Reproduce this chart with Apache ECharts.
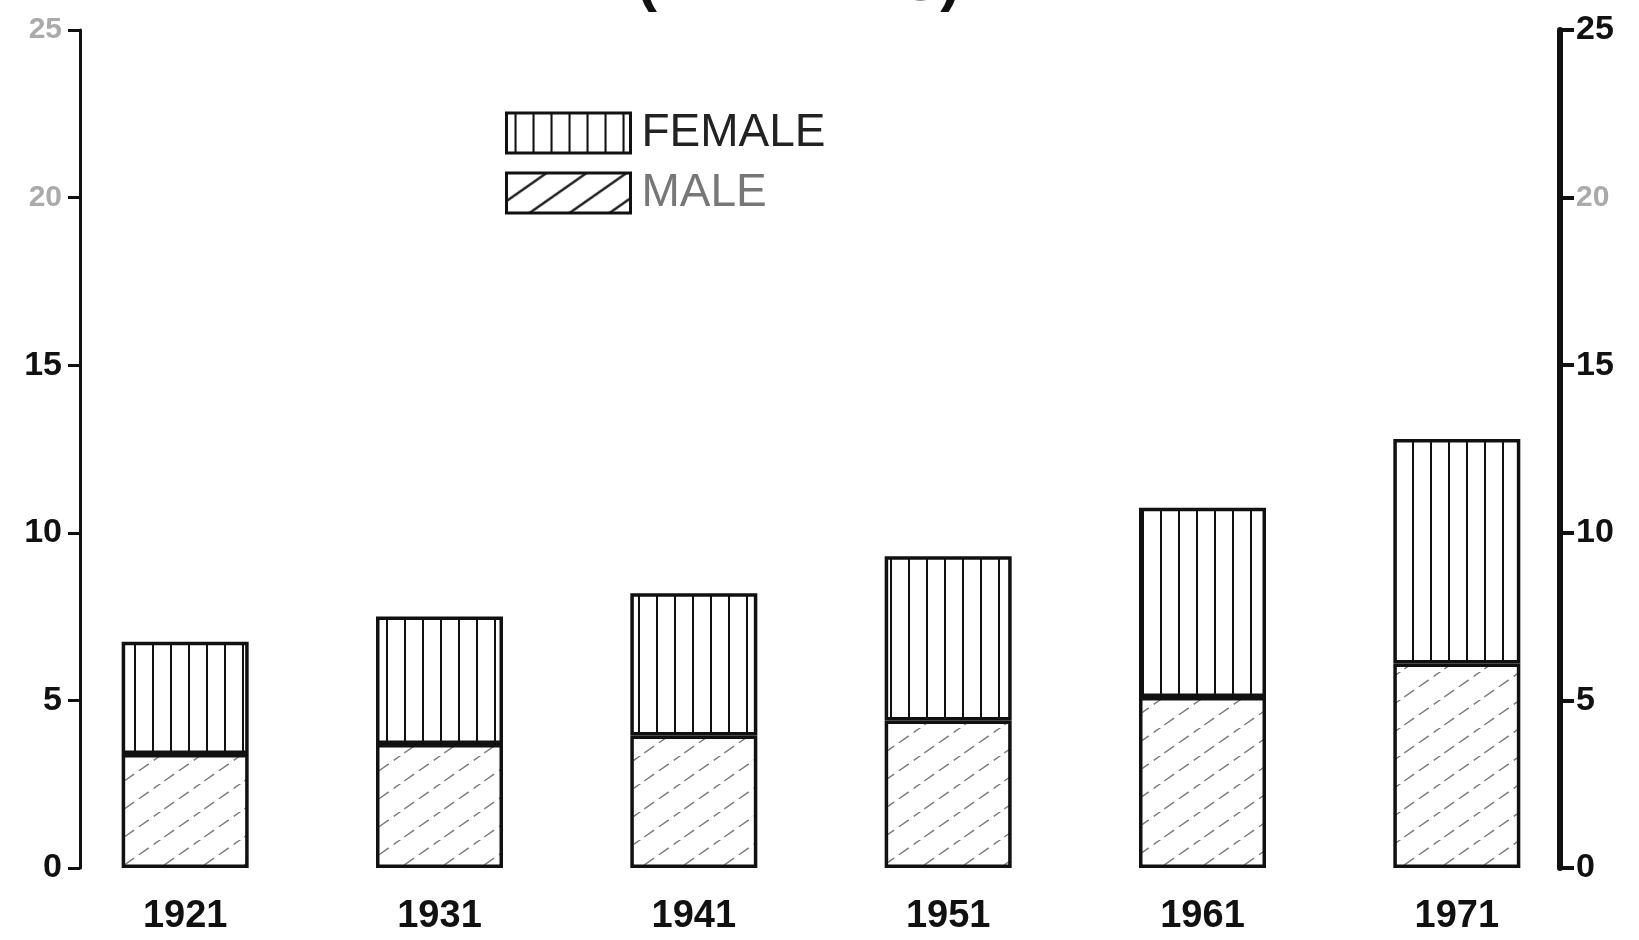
<!DOCTYPE html>
<html>
<head>
<meta charset="utf-8">
<style>
  html, body { margin: 0; padding: 0; background: #fff; }
  #chart { width: 1639px; height: 940px; }
</style>
<script src="https://cdn.jsdelivr.net/npm/echarts@6/dist/echarts.min.js"></script>
</head>
<body>
<div id="chart"></div>
<script>
const years = ['1921', '1931', '1941', '1951', '1961', '1971'];
const male = [3.4, 3.7, 3.95, 4.4, 5.1, 6.1];
const female = [3.35, 3.8, 4.25, 4.9, 5.65, 6.7];
const fadedTicks = [20, 25];

// vertical lines for the female part
function verticalLines() {
    const c = document.createElement('canvas');
    c.width = 18;
    c.height = 12;
    const ctx = c.getContext('2d');
    ctx.fillStyle = '#fff';
    ctx.fillRect(0, 0, c.width, c.height);
    ctx.fillStyle = '#111';
    ctx.fillRect(8, 0, 2, c.height);
    return c;
}

// broken diagonal hatching for the male part
function diagonalHatch(color, width, dash) {
    const c = document.createElement('canvas');
    c.width = 40;
    c.height = 28;
    const ctx = c.getContext('2d');
    ctx.fillStyle = '#fff';
    ctx.fillRect(0, 0, c.width, c.height);
    ctx.strokeStyle = color;
    ctx.lineWidth = width;
    ctx.setLineDash(dash);
    for (let k = -1; k <= 1; k++) {
        ctx.beginPath();
        ctx.moveTo(k * 40 - 40, 56);
        ctx.lineTo(k * 40 + 80, -28);
        ctx.stroke();
    }
    return c;
}

const femaleFill = { image: verticalLines(), repeat: 'repeat' };
const maleFill = { image: diagonalHatch('#777', 1.4, [12, 6]), repeat: 'repeat' };
const maleLegendFill = { image: diagonalHatch('#222', 2.5, []), repeat: 'repeat' };

const labelRich = {
    dark: { fontSize: 34, fontWeight: 'bold', color: '#111', fontFamily: 'Liberation Sans' },
    faint: { fontSize: 30, fontWeight: 'bold', color: '#aaa', fontFamily: 'Liberation Sans' }
};

function tickLabel(v) {
    return (fadedTicks.indexOf(v) >= 0 ? '{faint|' : '{dark|') + v + '}';
}

const chart = echarts.init(document.getElementById('chart'), null, { renderer: 'canvas' });

chart.setOption({
    backgroundColor: '#fff',
    animation: false,
    title: {
        text: '(IN LAKHS)',
        left: 632,
        top: -52,
        textStyle: { fontSize: 60, fontWeight: 'bold', color: '#111', fontFamily: 'Liberation Sans' }
    },
    legend: {
        orient: 'vertical',
        left: 500,
        top: 105,
        icon: 'rect',
        itemWidth: 124,
        itemHeight: 40,
        itemGap: 14,
        textStyle: { fontSize: 46, fontFamily: 'Liberation Sans', padding: [0, 0, 0, 6] },
        data: [
            { name: 'FEMALE', textStyle: { color: '#222' } },
            { name: 'MALE', itemStyle: { color: maleLegendFill }, textStyle: { color: '#777' } }
        ],
        itemStyle: { borderColor: '#111', borderWidth: 3 }
    },
    grid: { left: 58, right: 55, top: 30, bottom: 72, containLabel: false },
    xAxis: {
        type: 'category',
        data: years,
        axisLine: { show: false },
        axisTick: { show: false },
        axisLabel: {
            margin: 30,
            fontSize: 38,
            fontWeight: 'bold',
            color: '#111',
            fontFamily: 'Liberation Sans'
        }
    },
    yAxis: [
        {
            type: 'value',
            position: 'left',
            offset: -22,
            min: 0,
            max: 25,
            interval: 5,
            splitLine: { show: false },
            axisLine: { show: true, lineStyle: { color: '#111', width: 3 } },
            axisTick: { show: true, length: 12, lineStyle: { color: '#111', width: 3 } },
            axisLabel: { margin: 18, formatter: tickLabel, rich: labelRich }
        },
        {
            type: 'value',
            position: 'right',
            offset: -24,
            min: 0,
            max: 25,
            interval: 5,
            splitLine: { show: false },
            axisLine: { show: true, lineStyle: { color: '#111', width: 6 } },
            axisTick: { show: true, length: 14, lineStyle: { color: '#111', width: 4 } },
            axisLabel: {
                margin: 16,
                formatter: function (v) {
                    return v === 20 ? '{faint|20}' : '{dark|' + v + '}';
                },
                rich: labelRich
            }
        }
    ],
    series: [
        {
            name: 'MALE',
            type: 'bar',
            stack: 'total',
            barWidth: 127,
            data: male,
            itemStyle: { color: maleFill, borderColor: '#111', borderWidth: 3.5 }
        },
        {
            name: 'FEMALE',
            type: 'bar',
            stack: 'total',
            barWidth: 127,
            data: female,
            itemStyle: { color: femaleFill, borderColor: '#111', borderWidth: 3.5 }
        }
    ]
});

window.addEventListener('resize', function () {
    chart.resize();
});
</script>
</body>
</html>
